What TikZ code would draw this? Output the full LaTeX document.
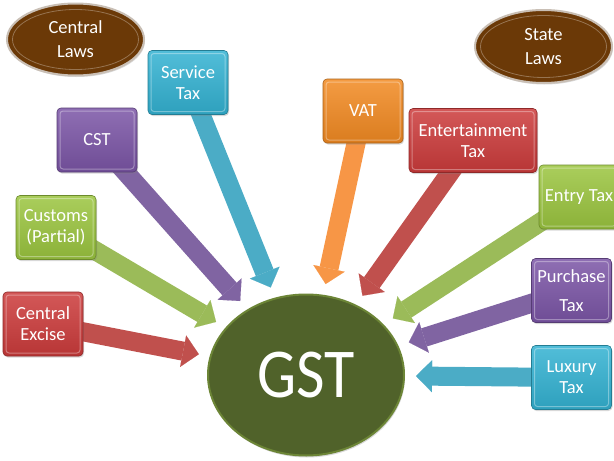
\documentclass[tikz,border=0pt]{standalone}
\usepackage{fontspec}
\setmainfont{Carlito}
\usetikzlibrary{arrows.meta,shapes.geometric,shadows}
\pgfdeclarelayer{bg}
\pgfsetlayers{bg,main}
\definecolor{redB}{HTML}{CC3B3B}
\definecolor{greenB}{HTML}{9BC53F}
\definecolor{purpleB}{HTML}{7B55A6}
\definecolor{cyanB}{HTML}{33B2D2}
\definecolor{orangeB}{HTML}{F28A22}
\definecolor{redA}{HTML}{C0504D}
\definecolor{greenA}{HTML}{9BBB59}
\definecolor{purpleA}{HTML}{8064A2}
\definecolor{cyanA}{HTML}{4BACC6}
\definecolor{orangeA}{HTML}{F79646}
\definecolor{brownE}{HTML}{6B3907}
\definecolor{brownRim}{HTML}{C9BFB5}
\definecolor{gstFill}{HTML}{50622A}
\definecolor{gstRim}{HTML}{6C8536}
\begin{document}
\begin{tikzpicture}[x=1pt,y=-1pt,
  tbox/.style={rectangle, rounded corners=4pt, minimum width=80pt, minimum height=64pt,
    inner sep=0pt, align=center, text=white, font=\fontsize{18.5}{21}\selectfont,
    draw=#1!70!black, line width=0.6pt, top color=#1!85!white, bottom color=#1!90!black,
    drop shadow={shadow xshift=1pt,shadow yshift=-1.5pt,opacity=0.3},
    path picture={\draw[white,opacity=0.35,line width=1pt,rounded corners=3pt]
      ([shift={(3pt,-3pt)}]path picture bounding box.north west) rectangle
      ([shift={(-3pt,3pt)}]path picture bounding box.south east);}},
  lawell/.style={ellipse, minimum width=137pt, minimum height=72pt, inner sep=0pt,
    fill=brownE, draw=brownRim, line width=2pt, text=white, align=center,
    font=\fontsize{18.5}{24}\selectfont,
    drop shadow={shadow xshift=1pt,shadow yshift=-1.5pt,opacity=0.3}},
  arr/.style={draw=#1, line width=19pt,
    -{Triangle[width=32pt,length=16pt,line width=0.1pt]}, shorten >=11pt},
  innerring/.style={draw=#1, line width=0.8pt}
]
\useasboundingbox (0,0) rectangle (614,461);
\begin{pgfonlayer}{bg}
\fill[white] (0,0) rectangle (614,461);
\end{pgfonlayer}

% central node
\node[ellipse, minimum width=196pt, minimum height=161pt, inner sep=0pt,
  fill=gstFill, draw=gstRim, line width=2pt, text=white,
  drop shadow={shadow xshift=1pt,shadow yshift=-2pt,opacity=0.3},
  font=\fontsize{62}{62}\selectfont] (gst) at (306,375) {\scalebox{1}[1.13]{GST}};

% law ellipses
\node[lawell] (cl) at (75.5,39.5) {Central\\Laws};
\node[lawell, minimum height=73pt] (sl) at (543.5,46.5) {State\\Laws};
\draw[innerring=brownE!70!white] (cl.center) ellipse [x radius=63, y radius=30];
\draw[innerring=brownE!70!white] (sl.center) ellipse [x radius=63, y radius=31];

% tax boxes
\node[tbox=redB]    (cex) at (43,324)      {Central\\Excise};
\node[tbox=greenB]  (cus) at (56,227.5)    {Customs\\(Partial)};
\node[tbox=purpleB] (cst) at (97,140)      {CST};
\node[tbox=cyanB]   (svc) at (188,82.5)    {Service\\Tax};
\node[tbox=orangeB] (vat) at (363,111)     {VAT};
\node[tbox=redB, minimum width=128pt] (ent) at (473,140.5) {Entertainment\\Tax};
\node[tbox=greenB]  (ety) at (579,197)     {Entry Tax};
\node[tbox=purpleB, font=\fontsize{18.5}{29}\selectfont] (pur) at (571.5,290.5) {Purchase\\Tax};
\node[tbox=cyanB]   (lux) at (571.5,377.5) {Luxury\\Tax};

% arrows
\begin{pgfonlayer}{bg}
\draw[arr=redA]    (cex.center) -- (gst);
\draw[arr=greenA]  (cus.center) -- (gst);
\draw[arr=purpleA] (cst.center) -- (gst);
\draw[arr=cyanA]   (svc.center) -- (gst);
\draw[arr=orangeA] (vat.center) -- (gst);
\draw[arr=redA]    (ent.center) -- (gst);
\draw[arr=greenA]  (ety.center) -- (gst);
\draw[arr=purpleA] (pur.center) -- (gst);
\draw[arr=cyanA]   (lux.center) -- (gst);
\end{pgfonlayer}
\end{tikzpicture}
\end{document}
